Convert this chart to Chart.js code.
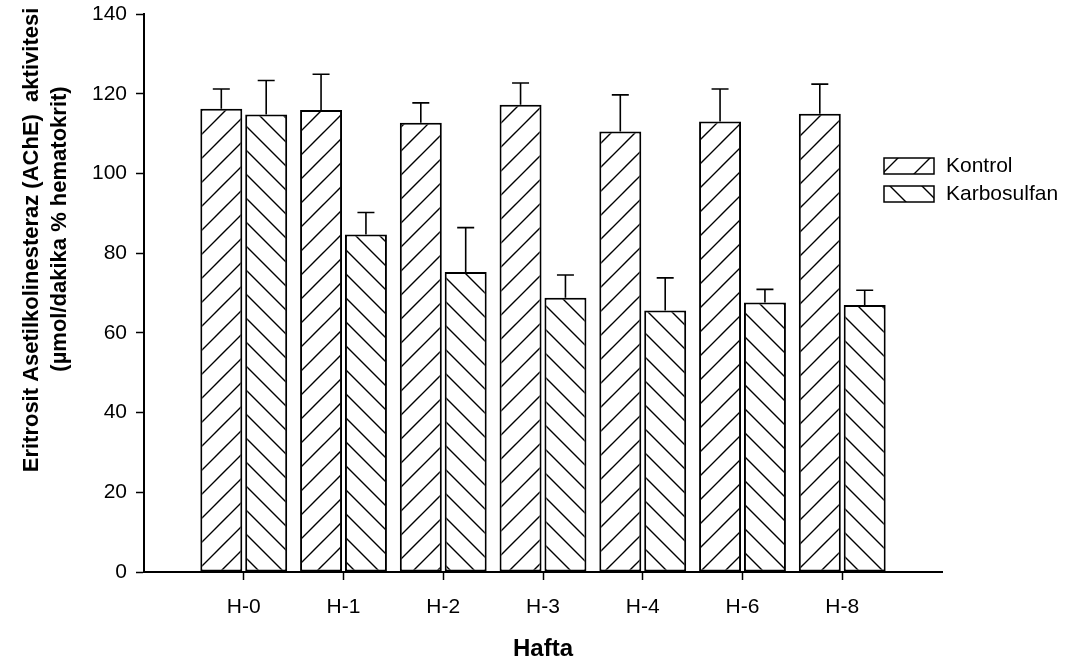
<!DOCTYPE html>
<html lang="tr">
<head>
    <meta charset="UTF-8">
    <title>Eritrosit AChE aktivitesi</title>
    <style>
        body {
            margin: 0;
            padding: 0;
            background-color: #fff;
        }
        canvas {
            display: block;
        }
    </style>
    <script src="https://cdn.jsdelivr.net/npm/chart.js"></script>
</head>
<body>

<canvas id="achChart" width="1066" height="668"></canvas>

<script>
    // Data
    const categories = ['H-0', 'H-1', 'H-2', 'H-3', 'H-4', 'H-6', 'H-8'];
    const kontrol = [116.2, 115.9, 112.7, 117.2, 110.5, 113.0, 115.0];
    const kontrolErr = [5.0, 9.0, 5.0, 5.5, 9.2, 8.2, 7.4];
    const karbosulfan = [114.8, 84.7, 75.3, 68.8, 65.6, 67.6, 67.0];
    const karbosulfanErr = [8.5, 5.5, 11.1, 5.7, 8.2, 3.3, 3.7];
    const yTicks = [0, 20, 40, 60, 80, 100, 120, 140];

    const FONT = "'Liberation Sans', Arial, sans-serif";

    // hatch pattern: '/' or '\'
    function makeHatch(dir, size) {
        const c = document.createElement('canvas');
        c.width = size;
        c.height = size;
        const g = c.getContext('2d');
        g.fillStyle = '#fff';
        g.fillRect(0, 0, size, size);
        g.strokeStyle = '#000';
        g.lineWidth = 1.4;
        g.beginPath();
        if (dir === '/') {
            g.moveTo(0, size); g.lineTo(size, 0);
            g.moveTo(-1, 1); g.lineTo(1, -1);
            g.moveTo(size - 1, size + 1); g.lineTo(size + 1, size - 1);
        } else {
            g.moveTo(0, 0); g.lineTo(size, size);
            g.moveTo(size - 1, -1); g.lineTo(size + 1, 1);
            g.moveTo(-1, size - 1); g.lineTo(1, size + 1);
        }
        g.stroke();
        return g.createPattern(c, 'repeat');
    }

    const ctx = document.getElementById('achChart').getContext('2d');
    const hatchKontrol = makeHatch('/', 24);
    const hatchKarbo = makeHatch('\\', 24);
    const legendKontrol = makeHatch('/', 32);
    const legendKarbo = makeHatch('\\', 32);

    // error bars (upper only)
    const errorBars = {
        id: 'errorBars',
        afterDatasetsDraw(chart) {
            const c = chart.ctx;
            const yScale = chart.scales.y;
            c.save();
            c.strokeStyle = '#000';
            c.lineWidth = 1.6;
            chart.data.datasets.forEach((ds, di) => {
                const meta = chart.getDatasetMeta(di);
                meta.data.forEach((bar, i) => {
                    const top = yScale.getPixelForValue(ds.data[i].y + ds.errors[i]);
                    c.beginPath();
                    c.moveTo(bar.x, bar.y);
                    c.lineTo(bar.x, top);
                    c.moveTo(bar.x - 8.5, top);
                    c.lineTo(bar.x + 8.5, top);
                    c.stroke();
                });
            });
            c.restore();
        }
    };

    // two-line y title, legend at the right
    const extras = {
        id: 'extras',
        afterDraw(chart) {
            const c = chart.ctx;
            c.save();
            c.fillStyle = '#000';
            c.font = 'bold 22px ' + FONT;
            c.textAlign = 'center';
            c.textBaseline = 'middle';
            [['Eritrosit Asetilkolinesteraz (AChE)  aktivitesi', 32, 240],
             ['(\u00b5mol/dakika % hematokrit)', 60, 229]].forEach(([t, x, y]) => {
                c.save();
                c.translate(x, y);
                c.rotate(-Math.PI / 2);
                c.fillText(t, 0, 0);
                c.restore();
            });

            // legend
            const items = [
                [chart.data.datasets[0].label, legendKontrol, 158],
                [chart.data.datasets[1].label, legendKarbo, 186]
            ];
            c.font = '21px ' + FONT;
            c.textAlign = 'left';
            items.forEach(([label, pat, y]) => {
                c.fillStyle = pat;
                c.fillRect(884, y, 50, 16);
                c.strokeStyle = '#000';
                c.lineWidth = 1.5;
                c.strokeRect(884, y, 50, 16);
                c.fillStyle = '#000';
                c.fillText(label, 946, y + 8.5);
            });
            c.restore();
        }
    };

    const achChart = new Chart(ctx, {
        type: 'bar',
        data: {
            datasets: [
                {
                    label: 'Kontrol',
                    data: kontrol.map((v, i) => ({ x: i, y: v })),
                    errors: kontrolErr,
                    backgroundColor: hatchKontrol,
                    borderColor: '#000',
                    borderWidth: 2,
                    borderSkipped: false
                },
                {
                    label: 'Karbosulfan',
                    data: karbosulfan.map((v, i) => ({ x: i, y: v })),
                    errors: karbosulfanErr,
                    backgroundColor: hatchKarbo,
                    borderColor: '#000',
                    borderWidth: 2,
                    borderSkipped: false
                }
            ]
        },
        options: {
            responsive: false,
            animation: false,
            categoryPercentage: 0.9,
            barPercentage: 0.935,
            layout: {
                padding: { left: 0, right: 124, top: 14, bottom: 0 }
            },
            plugins: {
                legend: { display: false },
                tooltip: { enabled: false }
            },
            scales: {
                x: {
                    type: 'linear',
                    min: -1,
                    max: 7,
                    offset: false,
                    afterBuildTicks: (scale) => {
                        scale.ticks = categories.map((c, i) => ({ value: i }));
                    },
                    afterFit: (scale) => {
                        scale.height = 96;
                        scale.paddingLeft = 0;
                        scale.paddingRight = 0;
                    },
                    grid: {
                        drawOnChartArea: false,
                        offset: false,
                        tickLength: 8,
                        tickColor: '#000',
                        tickWidth: 1.5
                    },
                    border: { color: '#000', width: 2 },
                    ticks: {
                        color: '#000',
                        padding: 15,
                        maxRotation: 0,
                        autoSkip: false,
                        font: { family: FONT, size: 21 },
                        callback: (v) => categories[v]
                    },
                    title: {
                        display: true,
                        text: 'Hafta',
                        color: '#000',
                        padding: { top: 0, bottom: 4 },
                        font: { family: FONT, size: 24, weight: 'bold' }
                    }
                },
                y: {
                    min: 0,
                    max: 140,
                    afterBuildTicks: (scale) => {
                        scale.ticks = yTicks.map(v => ({ value: v }));
                    },
                    afterFit: (scale) => {
                        scale.width = 144;
                        scale.paddingTop = 0;
                        scale.paddingBottom = 0;
                    },
                    grid: {
                        drawOnChartArea: false,
                        tickLength: 8,
                        tickColor: '#000',
                        tickWidth: 1.5
                    },
                    border: { color: '#000', width: 2 },
                    ticks: {
                        color: '#000',
                        padding: 9,
                        font: { family: FONT, size: 21 }
                    }
                }
            }
        },
        plugins: [errorBars, extras]
    });
</script>

</body>
</html>
